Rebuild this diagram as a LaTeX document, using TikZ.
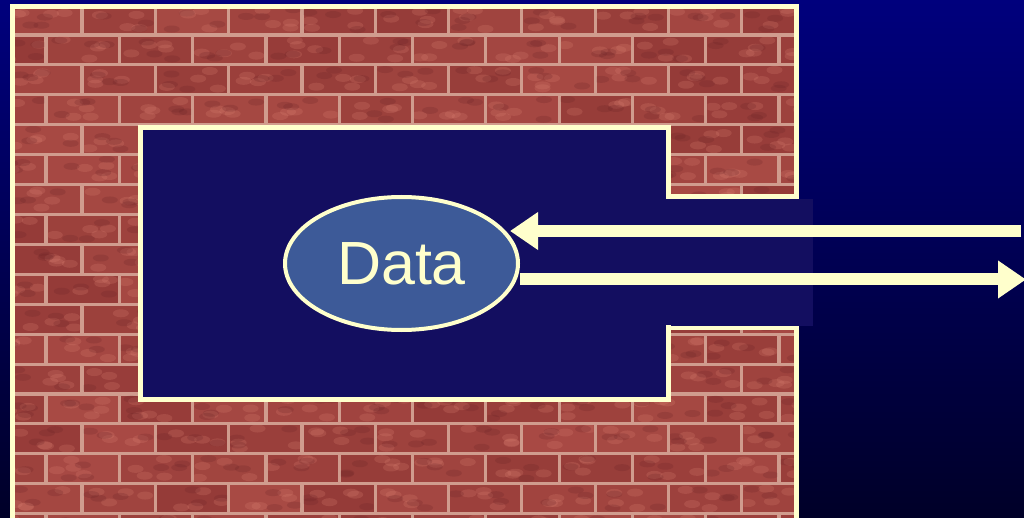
\documentclass[tikz,border=0pt]{standalone}
\usepackage{fontspec}
\setmainfont{Liberation Sans}
\usetikzlibrary{arrows.meta,shapes.geometric}
\definecolor{bgtop}{RGB}{0,0,125}
\definecolor{bgbot}{RGB}{0,0,40}
\definecolor{cream}{RGB}{255,255,204}
\definecolor{hole}{RGB}{19,14,96}
\definecolor{datafill}{RGB}{61,90,152}
\definecolor{mortar}{RGB}{208,156,142}
\definecolor{brickA}{RGB}{168,74,68}
\definecolor{brickB}{RGB}{140,52,50}
\definecolor{brickL}{RGB}{222,132,116}
\definecolor{brickD}{RGB}{105,34,38}
\tikzset{
  wallborder/.style={draw=cream,line width=5pt},
  flow/.style={draw=cream,line width=12pt,-{Triangle[length=28pt,width=36pt]}},
  dataell/.style={ellipse,draw=cream,line width=4pt,fill=datafill,
    minimum width=233pt,minimum height=133pt,inner sep=0pt,text=cream,
    font=\fontsize{61}{61}\selectfont},
}
\begin{document}
\begin{tikzpicture}[x=1pt,y=-1pt]
\useasboundingbox (0,0) rectangle (1024,518);
\shade[top color=bgtop,bottom color=bgbot] (0,0) rectangle (1024,518);
% brick wall
\begin{scope}
  \clip (12,7) rectangle (797,530);
  \fill[mortar] (12,7) rectangle (797,530);
  \pgfmathsetseed{7}
  \foreach \r in {0,...,17}{
    \pgfmathsetmacro{\yt}{5+29.92*\r+1.6}
    \pgfmathsetmacro{\yb}{35+29.92*\r-1.6}
    \pgfmathsetmacro{\off}{mod(\r,2)==0 ? 82 : 46}
    \foreach \k in {-1,...,11}{
      \pgfmathsetmacro{\xl}{\off+73.3*(\k-1)+1.6}
      \pgfmathsetmacro{\xr}{\off+73.3*\k-1.6}
      \pgfmathrandominteger{\p}{30}{100}
      \colorlet{bk}{brickA!\p!brickB}
      \fill[bk] (\xl,\yt) rectangle (\xr,\yb);
      \begin{scope}
        \clip (\xl,\yt) rectangle (\xr,\yb);
        \foreach \j in {1,...,4}{
          \pgfmathsetmacro{\bxa}{\xl+4+rnd*62}
          \pgfmathsetmacro{\bya}{\yt+3+rnd*20}
          \fill[brickL,opacity=0.22] (\bxa,\bya) ellipse (8 and 4);
        }
        \foreach \j in {1,...,3}{
          \pgfmathsetmacro{\bxc}{\xl+4+rnd*62}
          \pgfmathsetmacro{\byc}{\yt+3+rnd*20}
          \fill[brickD,opacity=0.22] (\bxc,\byc) ellipse (8 and 3.5);
        }
      \end{scope}
    }
  }
\end{scope}
\draw[wallborder] (12.5,7) rectangle (796.5,540);
% opening in the wall
\draw[wallborder,fill=hole] (140.5,127.5) -- (668.5,127.5) -- (668.5,197)
  -- (796.5,197) -- (796.5,327.5) -- (668.5,327.5) -- (668.5,399.5)
  -- (140.5,399.5) -- cycle;
\fill[hole] (671,199.5) rectangle (813,325.5);
% data
\node[dataell] (data) at (401.5,263.5) {Data};
\coordinate (inR) at (1021,231);
\coordinate (outR) at (1026,279.5);
\draw[flow,shorten >=-10pt] (inR) -- (inR -| data.east);
\draw[flow] (data.east |- outR) -- (outR);
\end{tikzpicture}
\end{document}
